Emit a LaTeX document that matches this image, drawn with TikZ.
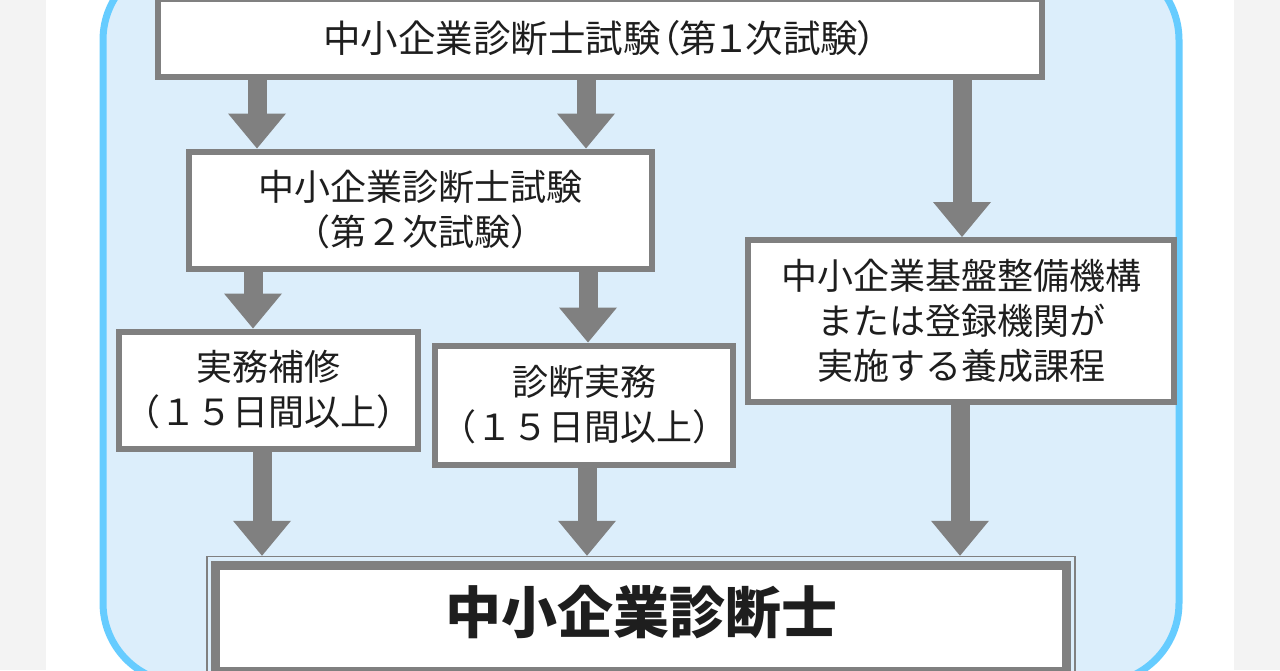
\documentclass[tikz,border=0pt]{standalone}
\usepackage{fontspec}
\setmainfont{Noto Sans CJK JP}
\usetikzlibrary{arrows.meta,positioning,fit}
\definecolor{boxgray}{RGB}{128,128,128}
\definecolor{panelblue}{RGB}{220,238,251}
\definecolor{panelline}{RGB}{102,204,255}
\definecolor{pagegray}{RGB}{243,243,243}
\definecolor{inkblack}{RGB}{30,30,30}

\begin{document}
\begin{tikzpicture}[x=1pt, y=-1pt,
    stepbox/.style={draw=boxgray, line width=6pt, fill=white, inner sep=0pt,
        align=center, text=inkblack, font=\fontsize{36}{45}\selectfont},
    flow/.style={draw=boxgray, line width=19pt,
        -{Triangle[length=35pt, width=58pt, line width=0pt]}}]
    \useasboundingbox (0,0) rectangle (1280,670);
    \clip (0,0) rectangle (1280,670);

    % page and panel
    \fill[pagegray] (0,0) rectangle (1280,670);
    \fill[white] (46,0) rectangle (1234,670);
    \draw[panelline, fill=panelblue, line width=7pt, rounded corners=80pt] (103,-40) rectangle (1179,683);

    % first exam
    \node[stepbox, minimum width=884pt, minimum height=78pt,
        font=\fontsize{37.5}{45}\selectfont] (exam1) at (600,38)
        {\addfontfeature{RawFeature=+palt}中小企業診断士試験（第１次試験）};

    % second exam
    \node[stepbox, minimum width=463pt, minimum height=117pt] (exam2) at (420,210)
        {中小企業診断士試験\\（第２次試験）};

    % practice
    \node[stepbox, minimum width=299pt, minimum height=117pt] (hoshu) at (268,390)
        {実務補修\\（１５日間以上）};
    \node[stepbox, minimum width=298pt, minimum height=119pt] (shindan) at (584,405)
        {診断実務\\（１５日間以上）};

    % training course
    \node[stepbox, minimum width=426pt, minimum height=162pt] (kikou) at (961,321)
        {中小企業基盤整備機構\\または登録機関が\\実施する養成課程};

    % registration
    \node[stepbox, line width=9pt, minimum width=851pt, minimum height=106pt,
        font=\fontsize{56}{60}\selectfont\bfseries] (goal) at (641,618)
        {\raisebox{17pt}{中小企業診断士}};
    \node[draw=boxgray, line width=1.5pt, fit=(goal), inner sep=4pt] (goalframe) {};

    % arrows
    \foreach \src/\dst/\x in {exam1/exam2/257, exam1/exam2/586, exam1/kikou/962,
                              exam2/hoshu/253, exam2/shindan/588,
                              hoshu/goalframe/262, shindan/goalframe/587, kikou/goalframe/960}
        \draw[flow] (\src.south -| \x,0) -- (\dst.north -| \x,0);
\end{tikzpicture}
\end{document}
